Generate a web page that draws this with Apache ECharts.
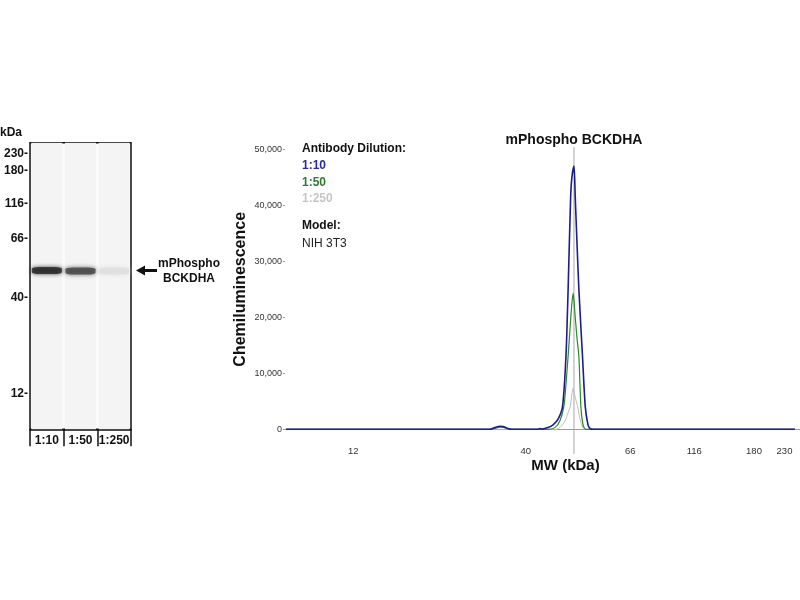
<!DOCTYPE html>
<html>
  <head>
    <meta charset="utf-8" />
    <title>mPhospho BCKDHA</title>
    <script src="https://cdnjs.cloudflare.com/ajax/libs/echarts/6.0.0/echarts.min.js"></script>
  </head>
  <body>
    <style>
      html,
      body {
        width: 100%;
        height: 100%;
        margin: 0;
        padding: 0;
        background: #ffffff;
      }
      #main {
        width: 800px;
        height: 600px;
      }
    </style>
    <div id="main"></div>
    <script type="text/javascript">

      // ladder markers: MW (kDa) and where each one runs (% of the run window)
      var mwTickLabels = ['12', '40', '66', '116', '180', '230'];
      var mwTickKDa = [12, 40, 66, 116, 180, 230];
      var mwTickPos = [13.26, 46.74, 67.05, 79.48, 91.07, 96.99];

      var lanes = ['1:10', '1:50', '1:250'];

      // electropherograms, [MW kDa, chemiluminescence]
      var dil10 = [
        [7.5, 0], [31.1, 0], [32.2, 300], [33.4, 550], [34.1, 500], [35.3, 150], [36.3, 0],
        [42.4, 0], [42.8, 150], [43.2, 50], [44.5, 300], [45.6, 800], [46.7, 1800],
        [47.7, 4000], [48.5, 13000], [49.0, 24900], [49.6, 41500], [49.9, 45000],
        [50.4, 47000], [50.7, 41500], [51.1, 33900], [51.6, 24900], [52.5, 13000],
        [53.2, 4000], [53.9, 800], [54.4, 150], [55.2, 0], [250, 0]
      ];
      var dil50 = [
        [7.5, 0], [31.5, 0], [32.5, 200], [33.4, 400], [34.3, 350], [35.3, 100], [36.3, 0],
        [44.5, 0], [46.0, 300], [47.1, 1500], [48.0, 4000], [48.5, 8000], [49.0, 13000],
        [49.5, 18500], [49.9, 22500], [50.2, 24300], [50.6, 21000], [51.1, 16500],
        [51.6, 13000], [52.1, 4000], [52.7, 600], [53.4, 0], [250, 0]
      ];
      var dil250 = [
        [7.5, 0], [46.2, 0], [47.1, 300], [48.3, 1500], [49.0, 3000], [49.5, 4000],
        [49.9, 6300], [50.2, 7300], [50.6, 6000], [51.3, 4000], [51.9, 1800],
        [52.6, 300], [53.4, 0], [250, 0]
      ];

      // piecewise log interpolation between ladder markers
      function mwToPos(mw) {
        var lx = Math.log10(mw);
        var lt = mwTickKDa.map(Math.log10);
        var i = 0;
        while (i < lt.length - 2 && lx > lt[i + 1]) i++;
        var t = (lx - lt[i]) / (lt[i + 1] - lt[i]);
        return mwTickPos[i] + t * (mwTickPos[i + 1] - mwTickPos[i]);
      }

      function toRun(curve) {
        return curve.map(function (p) { return [mwToPos(p[0]), p[1]]; });
      }

      function peakOf(curve) {
        var best = curve[0];
        curve.forEach(function (p) { if (p[1] > best[1]) best = p; });
        return best;
      }

      function tickLabel(v) {
        for (var i = 0; i < mwTickPos.length; i++) {
          if (Math.abs(mwTickPos[i] - v) < 0.01) return mwTickLabels[i];
        }
        return '';
      }

      var curves = [dil10, dil50, dil250];
      var peaks = curves.map(peakOf);
      var topSignal = peaks[0][1];

      // virtual blot: band shade from peak height
      function bandColor(v) {
        var t = v / topSignal;
        var d = 1 / (1 + Math.exp(-(t - 0.35) * 10));
        var g = Math.round(250 - 215 * d);
        return 'rgb(' + g + ',' + g + ',' + g + ')';
      }

      var bands = peaks.map(function (p, i) {
        return [i, mwToPos(p[0]), p[1]];
      });

      var FONT = '"Liberation Sans", Arial, sans-serif';

      var chartDom = document.getElementById('main');
      var myChart = echarts.init(chartDom);

      var option = {
        animation: false,
        backgroundColor: '#ffffff',
        textStyle: { fontFamily: FONT },
        legend: {
          orient: 'vertical',
          left: 297,
          top: 158.7,
          padding: 0,
          icon: 'none',
          itemWidth: 0,
          itemHeight: 14,
          itemGap: 3.5,
          selectedMode: false,
          textStyle: { fontSize: 12, fontWeight: 'bold', fontFamily: FONT },
          data: [
            { name: '1:10', textStyle: { color: '#2b2b9c' } },
            { name: '1:50', textStyle: { color: '#2e7a2e' } },
            { name: '1:250', textStyle: { color: '#c6c6c6' } }
          ]
        },
        grid: [
          { left: 285, right: 0, top: 149.3, bottom: 170.7 },
          {
            left: 30, width: 101, top: 142.7, bottom: 170.7,
            show: true, borderColor: '#111', borderWidth: 1.5,
            backgroundColor: '#fbfbfb'
          }
        ],
        xAxis: [
          {
            gridIndex: 0,
            type: 'value',
            min: 0,
            max: 100,
            offset: 13.5,
            axisLine: { show: true, lineStyle: { color: '#9a9a9a', width: 1 } },
            axisTick: { show: false },
            splitLine: { show: false },
            axisLabel: {
              customValues: mwTickPos,
              formatter: tickLabel,
              color: '#333',
              fontSize: 9.5,
              margin: 4
            }
          },
          {
            gridIndex: 1,
            type: 'category',
            data: lanes,
            boundaryGap: true,
            axisLine: { show: true, lineStyle: { color: '#111', width: 1.5 } },
            axisTick: { show: true, interval: 0, length: 17, lineStyle: { color: '#111', width: 1.5 } },
            axisLabel: { interval: 0, hideOverlap: false, color: '#111', fontSize: 12, fontWeight: 'bold', margin: 5 }
          }
        ],
        yAxis: [
          {
            gridIndex: 0,
            type: 'value',
            min: 0,
            max: 50000,
            interval: 10000,
            axisLine: { show: false },
            axisTick: { show: true, length: 2, lineStyle: { color: '#999' } },
            splitLine: { show: false },
            axisLabel: {
              color: '#333',
              fontSize: 9,
              margin: 3,
              formatter: function (v) { return v.toLocaleString('en-US'); }
            },
            name: 'Chemiluminescence',
            nameLocation: 'middle',
            nameGap: 36,
            nameMoveOverlap: false,
            nameTextStyle: { color: '#111', fontSize: 16, fontWeight: 'bold', fontFamily: FONT }
          },
          {
            gridIndex: 1,
            type: 'value',
            min: 0.7,
            max: 100.7,
            axisLine: { show: false },
            axisTick: { show: false },
            splitLine: { show: false },
            axisLabel: {
              customValues: mwTickPos,
              formatter: function (v) { return tickLabel(v) + '-'; },
              color: '#111',
              fontSize: 12,
              fontWeight: 'bold',
              margin: 2
            }
          }
        ],
        series: [
          {
            name: '1:250',
            type: 'line',
            xAxisIndex: 0,
            yAxisIndex: 0,
            data: toRun(dil250),
            smooth: 0.25,
            showSymbol: false,
            color: '#bdbdbd',
            lineStyle: { width: 1, color: '#bdbdbd' }
          },
          {
            name: '1:50',
            type: 'line',
            xAxisIndex: 0,
            yAxisIndex: 0,
            data: toRun(dil50),
            smooth: 0.25,
            showSymbol: false,
            color: '#2a8a2a',
            lineStyle: { width: 1.2, color: '#2a8a2a' }
          },
          {
            name: '1:10',
            type: 'line',
            xAxisIndex: 0,
            yAxisIndex: 0,
            data: toRun(dil10),
            smooth: 0.25,
            showSymbol: false,
            color: '#1c1c8c',
            lineStyle: { width: 1.6, color: '#1c1c8c' }
          },
          {
            name: 'lane',
            type: 'bar',
            xAxisIndex: 1,
            yAxisIndex: 1,
            silent: true,
            barWidth: '92%',
            itemStyle: { color: '#f4f4f4' },
            data: lanes.map(function () { return 100.7; })
          },
          {
            name: 'band',
            type: 'scatter',
            xAxisIndex: 1,
            yAxisIndex: 1,
            silent: true,
            symbol: 'roundRect',
            symbolSize: [30, 7],
            data: bands.map(function (b) {
              var c = bandColor(b[2]);
              return {
                value: b,
                itemStyle: { color: c, shadowBlur: 4, shadowColor: c }
              };
            })
          }
        ]
      };

      myChart.setOption(option);

      // annotations placed through the axes
      var peakX = myChart.convertToPixel({ gridIndex: 0 }, [mwToPos(peaks[0][0]), 0])[0];
      var bandY = myChart.convertToPixel({ gridIndex: 1 }, [0, bands[0][1]])[1];

      myChart.setOption({
        graphic: [
          {
            type: 'line', silent: true, z: 0,
            shape: { x1: peakX, y1: 147, x2: peakX, y2: 454 },
            style: { stroke: '#a8a8a8', lineWidth: 1 }
          },
          {
            type: 'text', x: peakX, y: 140.5,
            style: { text: 'mPhospho BCKDHA', fill: '#111', font: 'bold 14px ' + FONT, textAlign: 'center', textVerticalAlign: 'middle' }
          },
          {
            type: 'text', x: 565.5, y: 466,
            style: { text: 'MW (kDa)', fill: '#111', font: 'bold 15px ' + FONT, textAlign: 'center', textVerticalAlign: 'middle' }
          },
          {
            type: 'text', x: 302, y: 149,
            style: { text: 'Antibody Dilution:', fill: '#111', font: 'bold 12px ' + FONT, textVerticalAlign: 'middle' }
          },
          {
            type: 'text', x: 302, y: 226,
            style: { text: 'Model:', fill: '#111', font: 'bold 12px ' + FONT, textVerticalAlign: 'middle' }
          },
          {
            type: 'text', x: 302, y: 244,
            style: { text: 'NIH 3T3', fill: '#222', font: '12px ' + FONT, textVerticalAlign: 'middle' }
          },
          {
            type: 'text', x: 0, y: 132.7,
            style: { text: 'kDa', fill: '#111', font: 'bold 12px ' + FONT, textVerticalAlign: 'middle' }
          },
          {
            type: 'text', x: 189, y: 264,
            style: { text: 'mPhospho', fill: '#111', font: 'bold 12px ' + FONT, textAlign: 'center', textVerticalAlign: 'middle' }
          },
          {
            type: 'text', x: 189, y: 278.5,
            style: { text: 'BCKDHA', fill: '#111', font: 'bold 12px ' + FONT, textAlign: 'center', textVerticalAlign: 'middle' }
          },
          {
            type: 'line', silent: true,
            shape: { x1: 144, y1: bandY, x2: 157, y2: bandY },
            style: { stroke: '#111', lineWidth: 3 }
          },
          {
            type: 'polygon', silent: true,
            shape: { points: [[136, bandY], [145, bandY - 5], [145, bandY + 5]] },
            style: { fill: '#111' }
          }
        ]
      });
    </script>
  </body>
</html>
